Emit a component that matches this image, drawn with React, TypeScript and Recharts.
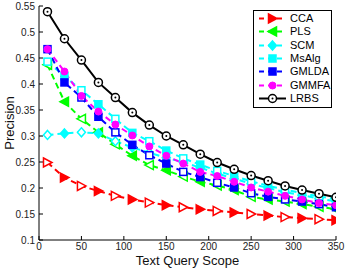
import React from 'react';
import { LineChart, Line, XAxis, YAxis, Legend } from 'recharts';

const scopes = [10, 30, 50, 70, 90, 110, 130, 150, 170, 190, 210, 230, 250, 270, 290, 310, 330, 350];

const cca = [0.249, 0.220, 0.204, 0.194, 0.185, 0.178, 0.172, 0.167, 0.163, 0.159, 0.156, 0.153, 0.150, 0.147, 0.144, 0.142, 0.140, 0.138];
const pls = [0.437, 0.366, 0.333, 0.307, 0.284, 0.262, 0.244, 0.234, 0.222, 0.212, 0.205, 0.196, 0.183, 0.178, 0.174, 0.169, 0.164, 0.159];
const scm = [0.302, 0.305, 0.307, 0.305, 0.290, 0.278, 0.268, 0.258, 0.250, 0.239, 0.228, 0.218, 0.208, 0.200, 0.192, 0.186, 0.180, 0.174];
const msalg = [0.443, 0.415, 0.388, 0.361, 0.333, 0.306, 0.290, 0.272, 0.257, 0.245, 0.233, 0.223, 0.213, 0.204, 0.197, 0.190, 0.184, 0.178];
const gmlda = [0.467, 0.403, 0.374, 0.337, 0.307, 0.283, 0.263, 0.247, 0.231, 0.221, 0.210, 0.201, 0.190, 0.183, 0.178, 0.174, 0.169, 0.163];
const gmmfa = [0.467, 0.424, 0.377, 0.347, 0.322, 0.301, 0.280, 0.262, 0.247, 0.231, 0.223, 0.212, 0.201, 0.193, 0.185, 0.178, 0.171, 0.167];
const lrbs = [0.539, 0.487, 0.446, 0.403, 0.374, 0.345, 0.321, 0.300, 0.283, 0.265, 0.249, 0.236, 0.224, 0.214, 0.204, 0.196, 0.189, 0.182];

const xTicks = [0, 50, 100, 150, 200, 250, 300, 350];
const yTicks = [0.1, 0.15, 0.2, 0.25, 0.3, 0.35, 0.4, 0.45, 0.5, 0.55];

type Shape = 'right' | 'left' | 'diamond' | 'square' | 'dot' | 'ring';

const series: { name: string; values: number[]; color: string; shape: Shape; dashed: boolean; alt: boolean }[] = [
  { name: 'CCA', values: cca, color: '#ff0000', shape: 'right', dashed: true, alt: true },
  { name: 'PLS', values: pls, color: '#00ff00', shape: 'left', dashed: true, alt: true },
  { name: 'SCM', values: scm, color: '#00ffff', shape: 'diamond', dashed: true, alt: true },
  { name: 'MsAlg', values: msalg, color: '#00ffff', shape: 'square', dashed: true, alt: true },
  { name: 'GMLDA', values: gmlda, color: '#0000ff', shape: 'square', dashed: true, alt: true },
  { name: 'GMMFA', values: gmmfa, color: '#ff00ff', shape: 'dot', dashed: true, alt: false },
  { name: 'LRBS', values: lrbs, color: '#000000', shape: 'ring', dashed: false, alt: false },
];

const data = scopes.map((s, i) => {
  const row: Record<string, number> = { scope: s };
  series.forEach((sr) => {
    row[sr.name] = sr.values[i];
  });
  return row;
});

const FONT = '"Liberation Sans", Arial, sans-serif';

function Marker({ shape, cx, cy, color, filled }: { shape: Shape; cx: number; cy: number; color: string; filled: boolean }) {
  const fill = filled ? color : '#fff';
  const sw = 1.5;
  switch (shape) {
    case 'right':
      return <polygon points={`${cx - 4},${cy - 4.5} ${cx + 4.5},${cy} ${cx - 4},${cy + 4.5}`} fill={fill} stroke={color} strokeWidth={sw} />;
    case 'left':
      return <polygon points={`${cx + 4},${cy - 4.5} ${cx - 4.5},${cy} ${cx + 4},${cy + 4.5}`} fill={fill} stroke={color} strokeWidth={sw} />;
    case 'diamond':
      return <polygon points={`${cx},${cy - 4.5} ${cx + 4},${cy} ${cx},${cy + 4.5} ${cx - 4},${cy}`} fill={fill} stroke={color} strokeWidth={sw} />;
    case 'square':
      return <rect x={cx - 3.5} y={cy - 3.5} width={7} height={7} fill={fill} stroke={color} strokeWidth={sw} />;
    case 'dot':
      return <circle cx={cx} cy={cy} r={3.5} fill={color} stroke={color} strokeWidth={1} />;
    default:
      return (
        <g>
          <circle cx={cx} cy={cy} r={4} fill="#fff" stroke={color} strokeWidth={sw} />
          <circle cx={cx} cy={cy} r={1} fill={color} />
        </g>
      );
  }
}

function renderLegend() {
  return (
    <div
      style={{
        border: '1px solid #000',
        background: '#fff',
        width: 77,
        height: 95,
        paddingTop: 1,
        fontFamily: FONT,
        fontSize: 11,
        color: '#000',
        boxSizing: 'content-box',
      }}
    >
      {series.map((s) => (
        <div key={s.name} style={{ display: 'flex', alignItems: 'center', height: 13.3 }}>
          <svg width={36} height={13} style={{ display: 'block' }}>
            <line x1={5} y1={6.5} x2={32} y2={6.5} stroke={s.color} strokeWidth={2} strokeDasharray={s.dashed ? '5 4' : undefined} />
            <Marker shape={s.shape} cx={18.5} cy={6.5} color={s.color} filled />
          </svg>
          <span style={{ lineHeight: '13px' }}>{s.name}</span>
        </div>
      ))}
    </div>
  );
}

export default function App() {
  return (
    <div style={{ position: 'absolute', left: 0, top: 0, width: 346, height: 270, background: '#fff' }}>
      <LineChart width={346} height={270} data={data} margin={{ top: 6, right: 10, bottom: 0, left: 0 }}>
        <XAxis
          dataKey="scope"
          type="number"
          domain={[0, 350]}
          ticks={xTicks}
          allowDataOverflow
          height={30}
          tickSize={-4}
          tickMargin={7}
          stroke="#000"
          tick={{ fontSize: 10, fill: '#222', fontFamily: FONT }}
          label={() => (
            <text x={187.5} y={265} textAnchor="middle" fontSize={13} fontFamily={FONT} fill="#111">
              Text Query Scope
            </text>
          )}
        />
        <XAxis
          xAxisId="top"
          orientation="top"
          dataKey="scope"
          type="number"
          domain={[0, 350]}
          ticks={xTicks}
          allowDataOverflow
          height={0}
          tickSize={-4}
          tick={false}
          stroke="#000"
        />
        <YAxis
          type="number"
          domain={[0.1, 0.55]}
          ticks={yTicks}
          allowDataOverflow
          width={39}
          tickSize={-4}
          tickMargin={8}
          stroke="#000"
          tick={{ fontSize: 10, fill: '#222', fontFamily: FONT }}
          label={() => (
            <text x={14} y={123} transform="rotate(-90 14 123)" textAnchor="middle" fontSize={13} fontFamily={FONT} fill="#111">
              Precision
            </text>
          )}
        />
        <YAxis
          yAxisId="right"
          orientation="right"
          type="number"
          domain={[0.1, 0.55]}
          ticks={yTicks}
          allowDataOverflow
          width={0}
          tickSize={-4}
          tick={false}
          stroke="#000"
        />
        {series.map((s) => (
          <Line
            key={s.name}
            dataKey={s.name}
            type="linear"
            stroke={s.color}
            strokeWidth={2}
            strokeDasharray={s.dashed ? '6 4' : undefined}
            isAnimationActive={false}
            dot={(p: any) => (
              <Marker key={`${s.name}-${p.index}`} shape={s.shape} cx={p.cx} cy={p.cy} color={s.color} filled={s.alt ? p.index % 2 === 1 : false} />
            )}
            activeDot={false}
          />
        ))}
        <Legend
          layout="vertical"
          align="center"
          verticalAlign="middle"
          content={renderLegend}
          wrapperStyle={{ left: 253, top: 10, width: 79, height: 97 }}
        />
      </LineChart>
    </div>
  );
}
